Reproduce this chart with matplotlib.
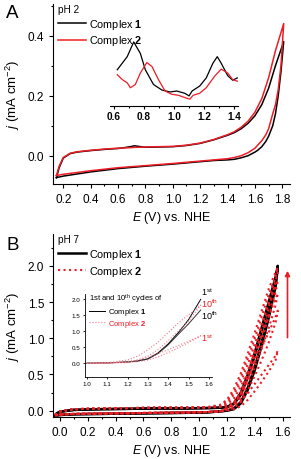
import matplotlib
matplotlib.use("Agg")
from matplotlib import pyplot as plt
from matplotlib import rcParams
from matplotlib.ticker import MultipleLocator

rcParams['font.family'] = ['Liberation Sans', 'DejaVu Sans']
rcParams['mathtext.fontset'] = 'custom'
rcParams['mathtext.rm'] = 'Liberation Sans'
rcParams['mathtext.it'] = 'Liberation Sans:italic'
rcParams['mathtext.bf'] = 'Liberation Sans:bold'

RED = '#ee1c25'
PINK = '#f27a8c'

# ---- panel A: pH 2 CV ----
EA_fwd = [0.15, 0.17, 0.2, 0.25, 0.3, 0.4, 0.5, 0.6, 0.65, 0.7, 0.72, 0.75, 0.8, 0.9,
          1.0, 1.1, 1.2, 1.3, 1.4, 1.45, 1.5, 1.55, 1.6, 1.65, 1.7, 1.75, 1.81]
a1_fwd = [-0.073, -0.04, -0.008, 0.007, 0.012, 0.017, 0.021, 0.024, 0.027, 0.031, 0.033, 0.031, 0.028, 0.029,
          0.03, 0.034, 0.041, 0.053, 0.068, 0.077, 0.09, 0.108, 0.133, 0.17, 0.225, 0.3, 0.38]
a2_fwd = [-0.066, -0.035, -0.006, 0.008, 0.013, 0.018, 0.022, 0.025, 0.026, 0.027, 0.028, 0.028, 0.029, 0.03,
          0.031, 0.035, 0.042, 0.054, 0.07, 0.08, 0.095, 0.115, 0.145, 0.19, 0.26, 0.35, 0.44]
EA_rev = [1.81, 1.79, 1.77, 1.75, 1.73, 1.7, 1.68, 1.65, 1.62, 1.6, 1.55, 1.5, 1.45, 1.4,
          1.3, 1.2, 1.0, 0.8, 0.6, 0.4, 0.2, 0.15]
a1_rev = [0.38, 0.28, 0.2, 0.14, 0.1, 0.065, 0.048, 0.03, 0.018, 0.012, 0.0, -0.007, -0.012, -0.014,
          -0.016, -0.02, -0.028, -0.035, -0.043, -0.054, -0.068, -0.073]
a2_rev = [0.44, 0.3, 0.22, 0.17, 0.14, 0.09, 0.07, 0.05, 0.035, 0.025, 0.01, 0.0, -0.006, -0.01,
          -0.014, -0.018, -0.026, -0.033, -0.04, -0.05, -0.062, -0.066]

# inset A (arbitrary units)
EA_in1 = [0.624, 0.69, 0.733, 0.777, 0.81, 0.864, 0.92, 0.974, 1.018, 1.072, 1.10, 1.12,
          1.17, 1.214, 1.258, 1.287, 1.313, 1.356, 1.389, 1.42]
in1 = [0.55, 0.75, 0.975, 0.80, 0.55, 0.325, 0.24, 0.21, 0.225, 0.19, 0.15, 0.225,
       0.30, 0.425, 0.65, 0.75, 0.65, 0.46, 0.39, 0.425]
EA_in2 = [0.624, 0.657, 0.69, 0.711, 0.744, 0.777, 0.82, 0.854, 0.897, 0.941, 0.985, 1.028,
          1.072, 1.105, 1.127, 1.17, 1.214, 1.269, 1.313, 1.356, 1.389, 1.42]
in2 = [0.475, 0.40, 0.35, 0.275, 0.325, 0.50, 0.66, 0.60, 0.40, 0.225, 0.175, 0.16,
       0.125, 0.10, 0.16, 0.19, 0.275, 0.45, 0.56, 0.50, 0.40, 0.375]

# ---- panel B: pH 7 CV, repeated cycles ----
EB_base = [-0.035, -0.02, 0.0, 0.1, 0.3, 0.5, 0.7, 0.9, 1.05]
EB_rise = [1.15, 1.2, 1.25, 1.3, 1.35, 1.4, 1.45, 1.5, 1.55, 1.565]
b1_base_fwd = [-0.065, -0.035, -0.015, 0.01, 0.02, 0.025, 0.03, 0.03, 0.035]
b1_base_rev = [-0.075, -0.065, -0.06, -0.05, -0.045, -0.04, -0.035, -0.03, -0.025]
b2_base_fwd = [-0.06, -0.03, -0.01, 0.02, 0.03, 0.035, 0.04, 0.04, 0.045]
b2_base_rev = [-0.07, -0.06, -0.055, -0.045, -0.04, -0.035, -0.03, -0.025, -0.02]
b1_fwd = [[0.04, 0.05, 0.1, 0.25, 0.5, 0.8, 1.15, 1.5, 1.85, 2.0],
          [0.04, 0.05, 0.09, 0.22, 0.46, 0.76, 1.1, 1.45, 1.82, 1.97]]
b1_rev = [[-0.01, 0.0, 0.03, 0.12, 0.32, 0.6, 0.95, 1.32, 1.75, 2.0],
          [-0.01, 0.0, 0.02, 0.1, 0.29, 0.56, 0.9, 1.28, 1.72, 1.97]]
b2_fwd = [[0.05, 0.06, 0.08, 0.13, 0.24, 0.37, 0.5, 0.63, 0.76, 0.83],
          [0.05, 0.07, 0.12, 0.25, 0.45, 0.66, 0.88, 1.08, 1.3, 1.38],
          [0.06, 0.09, 0.17, 0.33, 0.55, 0.8, 1.05, 1.3, 1.55, 1.62],
          [0.06, 0.11, 0.22, 0.4, 0.64, 0.92, 1.2, 1.48, 1.72, 1.8],
          [0.07, 0.13, 0.26, 0.46, 0.72, 1.0, 1.3, 1.6, 1.85, 1.92],
          [0.08, 0.15, 0.3, 0.52, 0.79, 1.08, 1.38, 1.68, 1.92, 1.98]]
b2_rev = [[-0.01, 0.0, 0.02, 0.06, 0.15, 0.27, 0.4, 0.54, 0.7, 0.83],
          [-0.01, 0.01, 0.04, 0.12, 0.28, 0.48, 0.7, 0.94, 1.22, 1.38],
          [-0.01, 0.02, 0.06, 0.16, 0.36, 0.6, 0.86, 1.14, 1.46, 1.62],
          [-0.01, 0.03, 0.08, 0.2, 0.42, 0.7, 0.98, 1.3, 1.64, 1.8],
          [-0.01, 0.03, 0.09, 0.23, 0.47, 0.77, 1.08, 1.42, 1.78, 1.92],
          [-0.01, 0.04, 0.1, 0.26, 0.52, 0.84, 1.16, 1.5, 1.86, 1.98]]

# inset B: 1st and 10th cycles
EB_in = [1.0, 1.1, 1.2, 1.25, 1.3, 1.35, 1.4, 1.45, 1.5, 1.56]
c1_1st = [0.0, 0.01, 0.04, 0.07, 0.14, 0.32, 0.6, 0.95, 1.35, 1.98]
c1_10th = [0.0, 0.01, 0.04, 0.07, 0.13, 0.3, 0.57, 0.9, 1.22, 1.65]
c2_10th_fwd = [0.0, 0.02, 0.1, 0.22, 0.42, 0.65, 0.95, 1.25, 1.5, 1.8]
c2_10th_rev = [0.0, 0.0, 0.04, 0.1, 0.22, 0.42, 0.7, 1.0, 1.3, 1.8]
c2_1st_fwd = [0.0, 0.01, 0.05, 0.1, 0.18, 0.3, 0.42, 0.55, 0.68, 0.85]
c2_1st_rev = [0.0, 0.0, 0.02, 0.05, 0.1, 0.2, 0.33, 0.48, 0.64, 0.85]
cyc_labels = ['1$^{\\mathrm{st}}$', '10$^{\\mathrm{th}}$', '10$^{\\mathrm{th}}$', '1$^{\\mathrm{st}}$']
cyc_label_y = [2.22, 1.86, 1.5, 0.82]
cyc_label_col = ['black', RED, 'black', RED]


def style_axes(ax):
    ax.spines['top'].set_visible(False)
    ax.spines['right'].set_visible(False)
    ax.tick_params(which='both', direction='out', labelsize=8.5, width=0.8)
    ax.tick_params(which='major', length=3)
    ax.tick_params(which='minor', length=1.5)


fig = plt.figure(figsize=(3.01, 4.60), dpi=100)

# ----- A -----
axA = fig.add_axes([0.177, 0.598, 0.786, 0.391])
axA.plot(EA_fwd + EA_rev, a1_fwd + a1_rev, color='black', lw=1.1, label='Complex $\\mathbf{1}$')
axA.plot(EA_fwd + EA_rev, a2_fwd + a2_rev, color=RED, lw=1.1, label='Complex $\\mathbf{2}$')
axA.set_xlim(0.127, 1.855)
axA.set_ylim(-0.094, 0.505)
axA.xaxis.set_major_locator(MultipleLocator(0.2))
axA.xaxis.set_minor_locator(MultipleLocator(0.1))
axA.yaxis.set_major_locator(MultipleLocator(0.2))
axA.yaxis.set_minor_locator(MultipleLocator(0.1))
style_axes(axA)
axA.set_xlabel('$E$ (V) vs. NHE', fontsize=9, labelpad=3)
axA.set_ylabel('$j$ (mA cm$^{-2}$)', fontsize=9.5, labelpad=4)
leg = axA.legend(title='pH 2', loc='upper left', bbox_to_anchor=(0.02, 1.0), frameon=False,
                 fontsize=7.8, title_fontsize=7.2, alignment='left', handlelength=2.6,
                 handletextpad=0.3, labelspacing=0.25, borderaxespad=0, borderpad=0)
fig.text(0.02, 0.99, 'A', fontsize=13.5, va='top', ha='left')

insA = fig.add_axes([0.365, 0.768, 0.426, 0.145])
insA.plot(EA_in1, in1, color='black', lw=0.9)
insA.plot(EA_in2, in2, color=RED, lw=0.9)
insA.set_xlim(0.575, 1.425)
insA.set_ylim(0, 1.02)
insA.patch.set_alpha(0)
for s in ['top', 'right', 'left']:
    insA.spines[s].set_visible(False)
insA.set_yticks([])
insA.xaxis.set_major_locator(MultipleLocator(0.2))
insA.xaxis.set_minor_locator(MultipleLocator(0.1))
insA.tick_params(which='both', direction='out', labelsize=7.2, width=0.8, pad=1.5)
insA.tick_params(which='major', length=2.5)
insA.tick_params(which='minor', length=1.5)
for t in insA.get_xticklabels():
    t.set_fontweight('bold')

# ----- B -----
axB = fig.add_axes([0.177, 0.0907, 0.786, 0.398])
for k in range(len(b1_fwd)):
    axB.plot(EB_base + EB_rise + EB_rise[::-1] + EB_base[::-1],
             b1_base_fwd + b1_fwd[k] + b1_rev[k][::-1] + b1_base_rev[::-1],
             color='black', lw=1.8, label='Complex $\\mathbf{1}$' if k == 0 else None)
for k in range(len(b2_fwd)):
    axB.plot(EB_base + EB_rise + EB_rise[::-1] + EB_base[::-1],
             b2_base_fwd + b2_fwd[k] + b2_rev[k][::-1] + b2_base_rev[::-1],
             color=RED, lw=1.5, ls=':', label='Complex $\\mathbf{2}$' if k == 0 else None)
axB.annotate('', xy=(1.635, 1.97), xytext=(1.635, 0.97),
             arrowprops=dict(arrowstyle='-|>', color=RED, lw=1.2, mutation_scale=7))
axB.set_xlim(-0.048, 1.652)
axB.set_ylim(-0.092, 2.437)
axB.xaxis.set_major_locator(MultipleLocator(0.2))
axB.xaxis.set_minor_locator(MultipleLocator(0.1))
axB.yaxis.set_major_locator(MultipleLocator(0.5))
axB.yaxis.set_minor_locator(MultipleLocator(0.25))
style_axes(axB)
axB.set_xlabel('$E$ (V) vs. NHE', fontsize=9, labelpad=3)
axB.set_ylabel('$j$ (mA cm$^{-2}$)', fontsize=9.5, labelpad=4)
axB.legend(title='pH 7', loc='upper left', bbox_to_anchor=(0.02, 1.0), frameon=False,
           fontsize=7.8, title_fontsize=7.2, alignment='left', handlelength=2.6,
           handletextpad=0.3, labelspacing=0.25, borderaxespad=0, borderpad=0)
fig.text(0.02, 0.485, 'B', fontsize=13.5, va='top', ha='left')

insB = fig.add_axes([0.282, 0.178, 0.422, 0.181])
insB.plot(EB_in, c1_1st, color='black', lw=0.7, label='Complex $\\mathbf{1}$')
insB.plot(EB_in, c1_10th, color='#333333', lw=0.7)
insB.plot(EB_in + EB_in[::-1], c2_10th_fwd + c2_10th_rev[::-1], color=PINK, lw=0.8, ls=':',
          label='Complex $\\mathbf{2}$')
insB.plot(EB_in + EB_in[::-1], c2_1st_fwd + c2_1st_rev[::-1], color=PINK, lw=0.8, ls=':')
insB.set_xlim(0.99, 1.615)
insB.set_ylim(-0.43, 2.15)
insB.patch.set_alpha(0)
insB.spines['top'].set_visible(False)
insB.spines['right'].set_visible(False)
insB.xaxis.set_major_locator(MultipleLocator(0.1))
insB.yaxis.set_major_locator(MultipleLocator(0.5))
insB.tick_params(which='both', direction='out', labelsize=4.5, width=0.6, length=1.5, pad=1.5)
for sp in insB.spines.values():
    sp.set_linewidth(0.6)
legB = insB.legend(title='1st and 10$^{\\mathrm{th}}$ cycles of', loc='upper left',
                   bbox_to_anchor=(0.03, 1.02), frameon=False, fontsize=5.5, title_fontsize=5.5,
                   alignment='left', handlelength=2.2, handletextpad=0.3, labelspacing=0.1,
                   borderaxespad=0, borderpad=0)
legB.get_texts()[1].set_color(RED)
for lab, yy, col in zip(cyc_labels, cyc_label_y, cyc_label_col):
    insB.text(1.562, yy, lab, fontsize=6.5, color=col, va='center', ha='left', clip_on=False)

fig.savefig('out.png', dpi=100)
